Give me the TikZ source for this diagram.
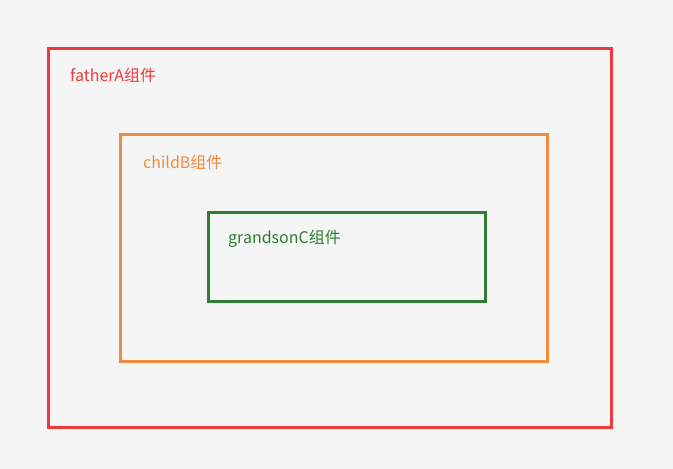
\documentclass[tikz,border=0pt]{standalone}
\usepackage{fontspec}
\setmainfont{Noto Sans CJK SC}
\definecolor{bg}{HTML}{F5F5F5}
\definecolor{cred}{HTML}{F03A3A}
\definecolor{corange}{HTML}{F28A3E}
\definecolor{cgreen}{HTML}{2E7D32}
\begin{document}
\begin{tikzpicture}[x=1pt,y=-1pt,
  box/.style={line width=3pt},
  lbl/.style={anchor=west,inner sep=0pt,font=\fontsize{16}{19}\selectfont}]
\fill[bg] (0,0) rectangle (673,469);
\useasboundingbox (0,0) rectangle (673,469);
\draw[box,cred] (48,48) rectangle (611,427);
\draw[box,corange] (120,134) rectangle (547,361);
\draw[box,cgreen] (208,212) rectangle (485,301);
\node[lbl,text=cred] (la) at (70,75) {fatherA组件};
\node[lbl,text=corange] (lb) at (143,162) {childB组件};
\node[lbl,text=cgreen] (lc) at (228,239) {grandsonC组件};
\end{tikzpicture}
\end{document}
